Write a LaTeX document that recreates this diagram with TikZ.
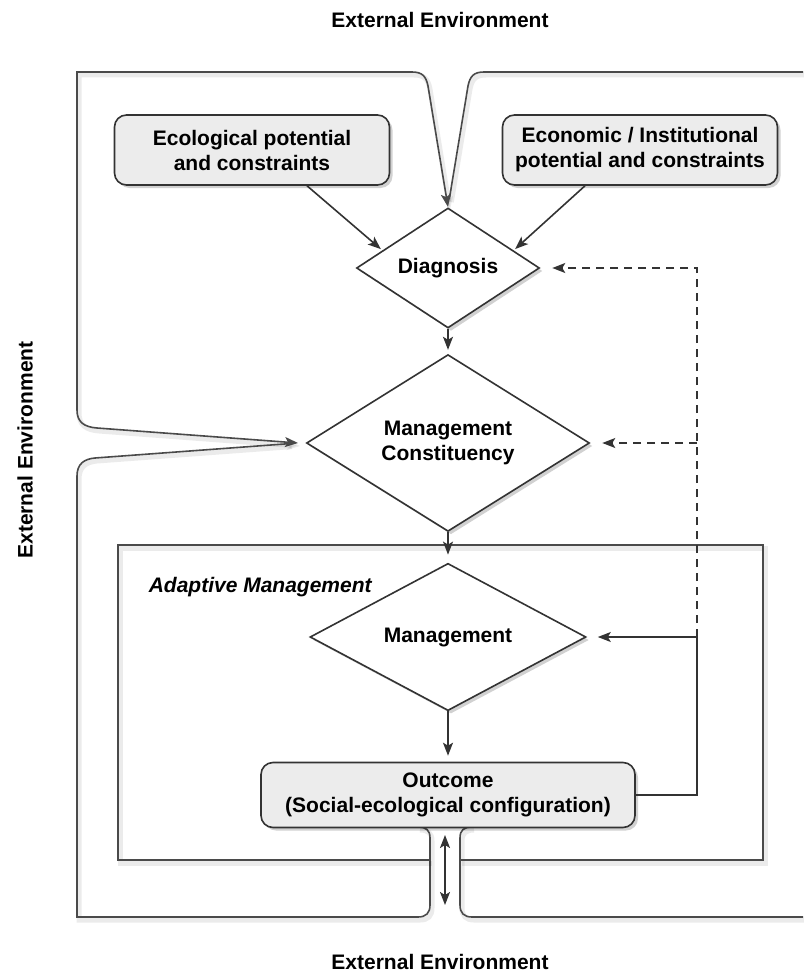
\documentclass[tikz,border=0pt]{standalone}
\usepackage{fontspec}
\setmainfont{Liberation Sans}
\usetikzlibrary{shapes.geometric, arrows.meta, shadows}
\definecolor{linegray}{HTML}{333333}
\definecolor{framegray}{HTML}{4A4A4A}
\definecolor{boxgray}{HTML}{ECECEC}

\begin{document}
\begin{tikzpicture}[x=1pt, y=-1pt, line width=1.6pt,
  font=\fontsize{21}{25}\selectfont\bfseries,
  shade/.style={drop shadow={shadow xshift=3pt, shadow yshift=-3pt, opacity=.18, fill=black}},
  box/.style={draw=linegray, rounded corners=12pt, fill=boxgray, align=center,
    minimum width=275pt, minimum height=70pt, shade},
  dia/.style={draw=linegray, diamond, fill=white, inner sep=0pt, align=center, shade},
  arr/.style={draw=linegray, -{Stealth[length=13pt,width=10pt,inset=3pt]}},
  dbl/.style={draw=linegray, {Stealth[length=13pt,width=10pt,inset=3pt]}-{Stealth[length=13pt,width=10pt,inset=3pt]}},
  frame/.style={draw=framegray,
    preaction={draw=black, opacity=.08, line width=5pt, transform canvas={shift={(2pt,-3pt)}}}}]
\useasboundingbox (0,0) rectangle (803,979);

% environment labels
\node (envtop) at (440,20) {External Environment};
\node (envbot) at (440,962) {External Environment};
\node[rotate=90] (envleft) at (25,450) {External Environment};

% outer frame with the three inlets
\coordinate (ttip) at (448,207);
\coordinate (ltip) at (298,443);
\draw[frame, dbl, draw=framegray] (ltip) -- (97,428) .. controls (84,427) and (77,422) .. (77,410) -- (77,72)
  -- (412,72) .. controls (422,72) and (426,76) .. (428,86) -- (ttip);
\draw[frame, shorten >=8pt] (803,72) -- (484,72) .. controls (474,72) and (470,76) .. (468,86) -- (ttip);
\draw[frame, shorten <=8pt] (ltip) -- (95,458) .. controls (84,459) and (77,464) .. (77,476) -- (77,917)
  -- (418,917) .. controls (426,917) and (430,913) .. (430,905) -- (430,838) .. controls (430,830) and (426,827) .. (418,827);
\draw[frame] (803,917) -- (472,917) .. controls (464,917) and (460,913) .. (460,905) -- (460,838)
  .. controls (460,830) and (464,827) .. (472,827);

% adaptive management box
\draw[frame] (430,860) -- (118,860) -- (118,545) -- (763,545) -- (763,860) -- (460,860);
\node[anchor=base west, inner sep=0pt, font=\fontsize{21}{25}\selectfont\bfseries\itshape] (adlbl) at (148,592) {Adaptive Management};

% nodes
\node[box] (eco) at (252,150) {Ecological potential\\and constraints};
\node[box] (econ) at (640,150) {Economic / Institutional\\potential and constraints};
\node[dia, minimum width=183pt, minimum height=97pt] (diag) at (448,268) {Diagnosis};
\node[dia, minimum width=283pt, minimum height=117pt] (mcon) at (448,443) {Management\\Constituency};
\node[dia, minimum width=276pt, minimum height=122pt] (mgmt) at (448,637) {Management};
\node[box, minimum width=374pt, minimum height=65pt] (out) at (448,795) {Outcome\\(Social-ecological configuration)};

% arrows
\draw[arr, shorten >=2pt] ([xshift=55pt]eco.south) -- (diag.165);
\draw[arr, shorten >=2pt] ([xshift=-55pt]econ.south) -- (diag.15);
\draw[arr, shorten >=4pt] (diag.south) -- (mcon.north);
\draw[arr, shorten >=8pt] (mcon.south) -- (mgmt.north);
\draw[arr, shorten >=6pt] (mgmt.south) -- (out.north);

% feedback
\coordinate (fbk) at (697,637);
\draw[arr, shorten >=11pt] (out.east) -| (fbk) -- (mgmt.east);
\draw[arr, dash pattern=on 8pt off 6pt, shorten >=12pt] (fbk) |- (diag.east);
\draw[arr, dash pattern=on 8pt off 6pt, shorten >=12pt] (fbk |- mcon.east) -- (mcon.east);

% link to the outside
\coordinate (chtop) at (445,835);
\coordinate (chbot) at (445,905);
\draw[dbl] (chtop) -- (chbot);
\end{tikzpicture}
\end{document}
